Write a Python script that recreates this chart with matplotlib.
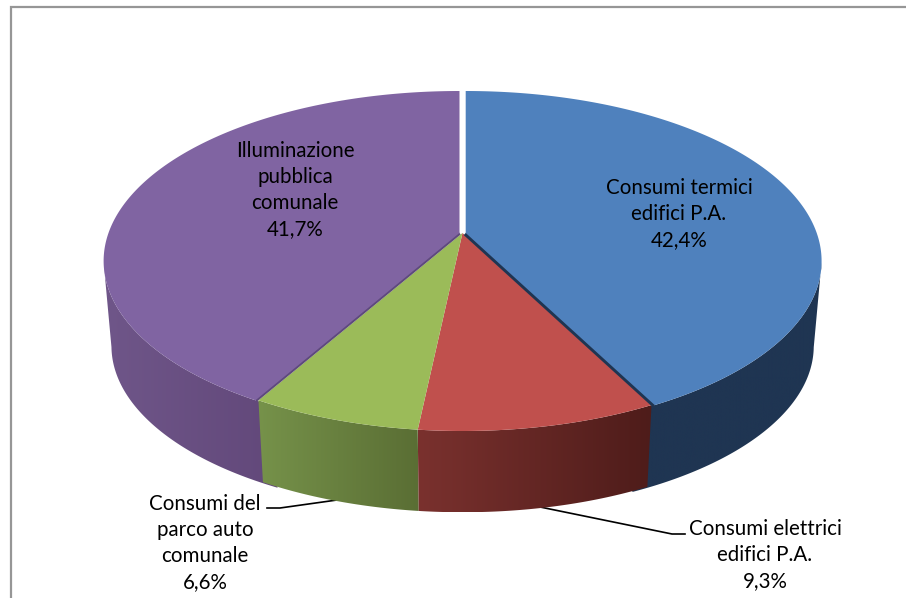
import numpy as np
import matplotlib
matplotlib.use('Agg')
import matplotlib.pyplot as plt
from matplotlib.colors import LinearSegmentedColormap
from matplotlib.patches import Polygon

# data
categories = ['Consumi termici\nedifici P.A.', 'Consumi elettrici\nedifici P.A.',
              'Consumi del\nparco auto\ncomunale', 'Illuminazione\npubblica\ncomunale']
values = [42.4, 9.3, 6.6, 41.7]
top_colors = ['#4F81BD', '#C0504D', '#9BBB59', '#8064A2']
wall_left = ['#1F3552', '#7A312E', '#76924A', '#6F5689']
wall_right = ['#1F3552', '#4E1C1A', '#5A6E34', '#62487A']
edge_colors = ['#1F3552', None, None, '#5E4A7C']
shift_x = [3.2, 0, 0, -3]
label_pos = [(679, 214), (765, 555), (205, 543), (295, 190)]

# projection of the pie disc, pixels
cx, cy = 462.5, 261
rx, ry = 351, 170
k = 0.165
depth = 85
shrink = 0.978


def project(t, r=1.0, wall=False):
    u = r * np.sin(t)
    v = -r * np.cos(t)
    w = 1 - k * v
    x = rx * u / w
    y = ry * (v - k) / w
    if wall:
        return cx + x * shrink, cy + depth + y * shrink
    return cx + x, cy + y


fig = plt.figure(figsize=(9.06, 5.98), dpi=100)
ax = fig.add_axes([0, 0, 1, 1])

ax.plot([10.5, 10.5, 906], [598, 6.5, 6.5], color='#969696', lw=1.6, solid_joinstyle='miter')

fracs = np.array(values) / sum(values)
ends = np.cumsum(fracs) * 2 * np.pi
starts = ends - fracs * 2 * np.pi
overlap = np.radians(3)

# walls first, far ones to near ones
for i in [0, 3, 2, 1]:
    t0 = starts[i] - (overlap if i == 3 else 0)
    t1 = ends[i] + (overlap if i == 0 else 0)
    t = np.linspace(t0, t1, 300)
    t = t[-np.cos(t) >= k]
    x1, y1 = project(t)
    x2, y2 = project(t, wall=True)
    x1 = x1 + shift_x[i]
    x2 = x2 + shift_x[i]
    pts = np.r_[np.c_[x1, y1], np.c_[x2, y2][::-1]]
    clip = Polygon(pts, closed=True, transform=ax.transData, fc='none', ec='none')
    ax.add_patch(clip)
    cmap = LinearSegmentedColormap.from_list('wall', [wall_left[i], wall_right[i]])
    im = ax.imshow(np.linspace(0, 1, 256).reshape(1, -1), cmap=cmap, aspect='auto',
                   extent=(pts[:, 0].min(), pts[:, 0].max(), pts[:, 1].max(), pts[:, 1].min()),
                   zorder=2)
    im.set_clip_path(clip)

# top faces
for i in range(4):
    t = np.linspace(starts[i], ends[i], 300)
    x, y = project(t)
    ox, oy = project(np.array([0.0]), r=0.0)
    xs = np.r_[ox, x] + shift_x[i]
    ys = np.r_[oy, y]
    if edge_colors[i]:
        side = -1 if i == 0 else 0
        ax.plot([xs[0], x[side] + shift_x[i]], [ys[0], y[side]], color=edge_colors[i],
                lw=4.2 if i == 0 else 2.8, zorder=3.6, solid_capstyle='butt')
    ax.fill(xs, ys, color=top_colors[i], lw=0, zorder=3.7 if edge_colors[i] else 3.5)

# leader lines
ax.plot([685, 672, 540], [534, 534, 507], color='black', lw=1.2, zorder=1)
ax.plot([267, 280, 337], [508, 508, 500], color='black', lw=1.2, zorder=1)

for name, val, (lx, ly) in zip(categories, values, label_pos):
    txt = name + '\n' + f'{val:.1f}'.replace('.', ',') + '%'
    ax.text(lx, ly, txt, ha='center', va='center', family='Lato', fontsize=14.8,
            color='black', linespacing=1.36, zorder=5)

ax.set_xlim(0, 906)
ax.set_ylim(598, 0)
ax.axis('off')
fig.savefig('out.png', dpi=100)
